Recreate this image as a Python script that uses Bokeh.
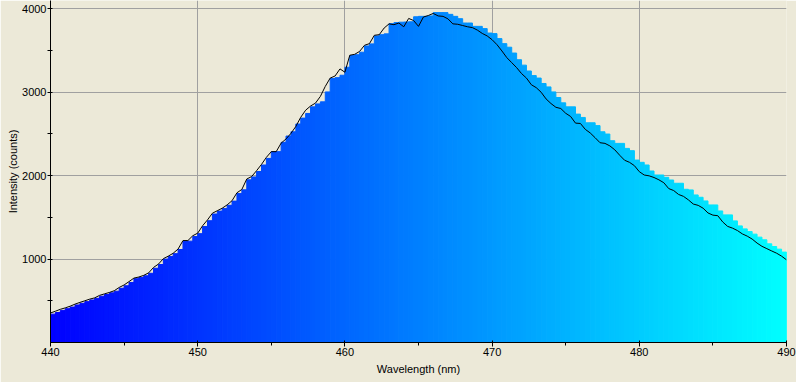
import numpy as np
from bokeh.plotting import figure
from bokeh.models import FixedTicker, Range1d, ColumnDataSource
from bokeh.embed import file_html
from bokeh.resources import INLINE

# ---------------- data ----------------
wl_start = 440.0
wl_end = 490.0
n_points = 151
wavelength = np.linspace(wl_start, wl_end, n_points)   # spectrometer pixel grid (nm)

# black trace (counts)
line_counts = [
    354, 375, 398, 415, 435, 460, 481, 500, 520, 535,
    565, 583, 600, 621, 660, 690, 730, 772, 785, 805,
    835, 900, 940, 1005, 1035, 1070, 1120, 1222, 1222, 1280,
    1311, 1400, 1470, 1550, 1580, 1610, 1650, 1700, 1795, 1835,
    1960, 1990, 2060, 2135, 2220, 2288, 2288, 2390, 2440, 2507,
    2590, 2700, 2785, 2835, 2870, 2950, 3070, 3170, 3195, 3280,
    3240, 3444, 3455, 3490, 3563, 3583, 3683, 3690, 3770, 3820,
    3810, 3830, 3785, 3885, 3860, 3790, 3902, 3920, 3945, 3915,
    3910, 3880, 3820, 3815, 3800, 3785, 3775, 3745, 3705, 3675,
    3630, 3570, 3495, 3415, 3355, 3295, 3224, 3170, 3090, 3055,
    3000, 2920, 2865, 2820, 2805, 2748, 2710, 2630, 2626, 2555,
    2512, 2455, 2395, 2387, 2357, 2310, 2245, 2185, 2160, 2120,
    2048, 2008, 1998, 1978, 1950, 1915, 1845, 1822, 1775, 1752,
    1710, 1660, 1644, 1610, 1553, 1527, 1520, 1445, 1392, 1371,
    1342, 1302, 1275, 1240, 1192, 1153, 1125, 1097, 1070, 1035,
    991,
]

# coloured bars (counts)
bar_counts = [
    340, 360, 385, 405, 425, 450, 470, 490, 510, 530,
    555, 575, 595, 615, 650, 680, 720, 765, 780, 800,
    830, 890, 935, 1000, 1030, 1065, 1115, 1210, 1215, 1270,
    1305, 1390, 1460, 1540, 1575, 1605, 1645, 1695, 1785, 1830,
    1950, 1985, 2050, 2128, 2207, 2288, 2288, 2400, 2475, 2526,
    2620, 2690, 2746, 2825, 2860, 2885, 3004, 3164, 3175, 3204,
    3300, 3440, 3450, 3480, 3555, 3580, 3675, 3690, 3700, 3822,
    3835, 3840, 3842, 3845, 3905, 3910, 3910, 3915, 3955, 3955,
    3955, 3934, 3910, 3882, 3830, 3830, 3790, 3790, 3763, 3710,
    3703, 3643, 3583, 3540, 3470, 3390, 3325, 3255, 3200, 3170,
    3105, 3064, 3004, 2937, 2873, 2825, 2825, 2738, 2698, 2634,
    2634, 2600, 2526, 2499, 2419, 2387, 2387, 2327, 2300, 2187,
    2160, 2128, 2056, 2008, 2008, 1980, 1948, 1909, 1909, 1837,
    1829, 1769, 1741, 1697, 1649, 1649, 1577, 1530, 1530, 1458,
    1398, 1362, 1330, 1299, 1263, 1231, 1183, 1151, 1119, 1084,
    1084,
]

x_ticks = [440, 450, 460, 470, 480, 490]
x_minor_ticks = [445, 455, 465, 475, 485]
y_ticks = [1000, 2000, 3000, 4000]
y_minor_ticks = [500, 1500, 2500, 3500]

# ---------------- build ----------------
step = wavelength[1] - wavelength[0]
lefts = wavelength
rights = wavelength + step


def wl_color(w):
    t = (w - wl_start) / (wl_end - wl_start)
    t = min(max(t, 0.0), 1.0)
    g = int(round(255 * t))
    return "#%02x%02x%02x" % (0, g, 255)


colors = [wl_color((l + r) / 2) for l, r in zip(lefts, rights)]

bar_src = ColumnDataSource(dict(left=lefts, right=rights, top=bar_counts,
                                bottom=[0] * len(bar_counts), color=colors))

BG = "#ECE9D8"
FONT = "Liberation Sans"

p = figure(width=796, height=382, output_backend="svg", toolbar_location=None,
           x_range=Range1d(wl_start, wl_end), y_range=Range1d(0, 4100),
           min_border_left=50, min_border_right=10, min_border_top=0,
           min_border_bottom=40)

p.background_fill_color = BG
p.border_fill_color = BG
p.outline_line_color = None

p.quad(left="left", right="right", top="top", bottom="bottom",
       fill_color="color", line_color="color", line_width=1, source=bar_src)
p.line(wavelength, line_counts, line_color="black", line_width=1)

p.xaxis.ticker = FixedTicker(ticks=x_ticks, minor_ticks=x_minor_ticks)
p.yaxis.ticker = FixedTicker(ticks=y_ticks, minor_ticks=y_minor_ticks)

p.xgrid.grid_line_color = "#A0A0A0"
p.ygrid.grid_line_color = "#A0A0A0"

for ax in (p.xaxis, p.yaxis):
    ax.axis_line_color = "black"
    ax.major_tick_line_color = "black"
    ax.minor_tick_line_color = "black"
    ax.major_label_text_font = FONT
    ax.major_label_text_font_size = "11px"
    ax.major_label_text_color = "black"
    ax.axis_label_text_font = FONT
    ax.axis_label_text_font_size = "11px"
    ax.axis_label_text_font_style = "normal"
    ax.axis_label_text_color = "black"

p.xaxis.axis_label = "Wavelength (nm)"
p.yaxis.axis_label = "Intensity (counts)"

p.xaxis.major_tick_out = 4
p.xaxis.major_tick_in = 2
p.xaxis.minor_tick_out = 3
p.xaxis.minor_tick_in = 0
p.xaxis.major_label_standoff = 1
p.xaxis.axis_label_standoff = 4

p.yaxis.major_tick_out = 3
p.yaxis.major_tick_in = 2
p.yaxis.minor_tick_out = 3
p.yaxis.minor_tick_in = 2
p.yaxis.major_label_standoff = 1
p.yaxis.axis_label_standoff = 0

open("out.html", "w").write(file_html(p, INLINE))
